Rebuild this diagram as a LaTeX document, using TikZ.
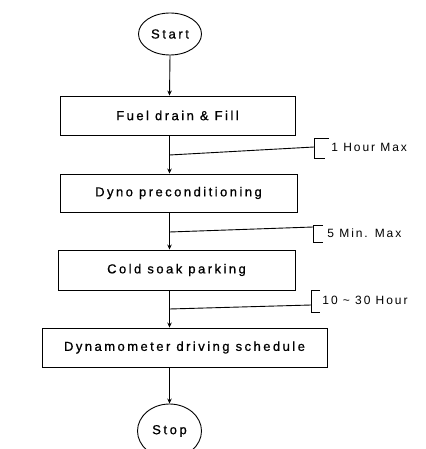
\documentclass[tikz,border=0pt]{standalone}
\usepackage{fontspec}
\setmainfont{Liberation Sans}
\usetikzlibrary{arrows.meta,shapes.geometric}
\begin{document}
\begin{tikzpicture}[x=1pt,y=-1pt,
  line width=0.9pt, draw=black,
  arr/.style={-{Stealth[length=5pt,width=4.5pt]}},
  boxstyle/.style={draw, rectangle, inner sep=0pt, minimum height=39pt,
    font=\fontsize{13}{15}\selectfont\addfontfeatures{LetterSpace=19,FakeBold=0.8}},
  termstyle/.style={draw, ellipse, inner sep=0pt, minimum width=63pt,
    font=\fontsize{13}{15}\selectfont\addfontfeatures{LetterSpace=20,FakeBold=0.8}},
  notestyle/.style={anchor=west, inner sep=0pt,
    font=\fontsize{12}{14}\selectfont\addfontfeatures{LetterSpace=16}},
  bracket/.style={line width=0.7pt}]
\useasboundingbox (0,0) rectangle (425,449);
\clip (0,0) rectangle (425,449);

\node[termstyle, minimum height=42pt] (start) at (170,34) {Start};
\node[boxstyle, minimum width=235pt] (b1) at (177.5,115.5) {Fuel drain \& Fill};
\node[boxstyle, minimum width=237pt, minimum height=38pt] (b2) at (178.5,193) {Dyno preconditioning};
\node[boxstyle, minimum width=237pt, minimum height=40pt] (b3) at (176.5,270) {Cold soak parking};
\node[boxstyle, minimum width=285pt] (b4) at (184.5,347.5) {Dynamometer driving schedule};
\node[termstyle, minimum width=64pt, minimum height=54pt] (stop) at (169.5,431) {Stop};

\coordinate (c0) at (169.5,0);
\draw[arr] (start.south) -- (c0 |- b1.north);
\draw[arr] (c0 |- b1.south) -- (c0 |- b2.north);
\draw[arr] (c0 |- b2.south) -- (c0 |- b3.north);
\draw[arr] (c0 |- b3.south) -- (c0 |- b4.north);
\draw[arr] (c0 |- b4.south) -- (stop.north);

% side notes
\coordinate (j1) at (169.5,155);
\coordinate (k1) at (314,147);
\node[notestyle] (n1) at (331,147) {1 Hour Max};
\draw (j1) -- (k1);
\draw[bracket] (329,138) -- (314,138) -- (314,158) -- (325,158);

\coordinate (j2) at (169.5,232);
\coordinate (k2) at (313,227);
\node[notestyle] (n2) at (327,233) {5 Min. Max};
\draw (j2) -- (k2);
\draw[bracket] (323,225) -- (313,225) -- (313,242) -- (323,242);

\coordinate (j3) at (169.5,309);
\coordinate (k3) at (311,305);
\node[notestyle] (n3) at (322,300) {10 \textasciitilde{} 30 Hour};
\draw (j3) -- (k3);
\draw[bracket] (320,290) -- (311,290) -- (311,312) -- (320,312);
\end{tikzpicture}
\end{document}
